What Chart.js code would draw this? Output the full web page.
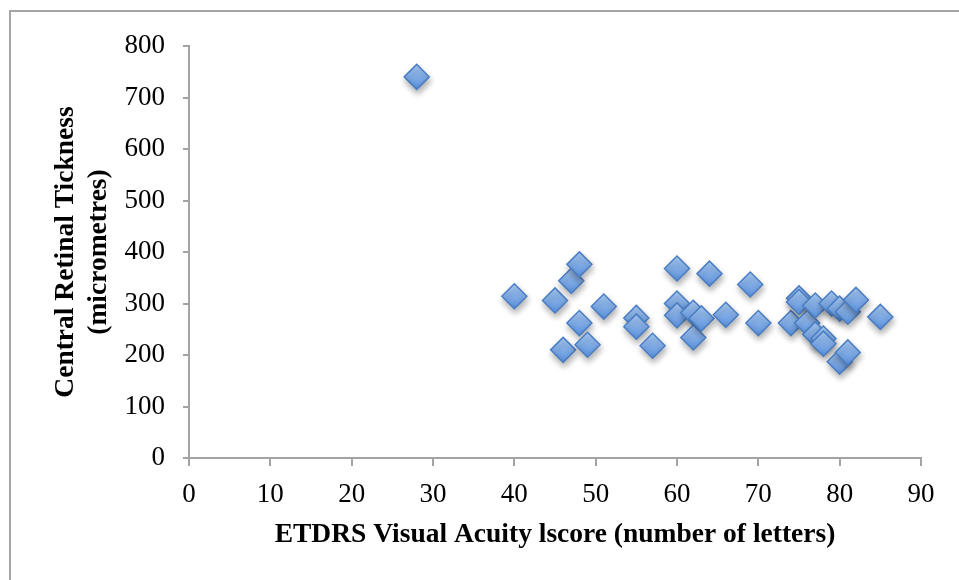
<!DOCTYPE html>
<html>
<head>
<meta charset="utf-8">
<script src="https://cdn.jsdelivr.net/npm/chart.js@4/dist/chart.umd.min.js"></script>
<style>
  html, body { margin: 0; padding: 0; background: #fff; }
  #wrap { width: 959px; height: 580px; }
</style>
</head>
<body>
<div id="wrap"><canvas id="scatter" width="959" height="580"></canvas></div>
<script>
const ctx = document.getElementById('scatter')

// ETDRS score (letters) vs central retinal thickness (micrometres)
const acuity = [28, 40, 45, 46, 47, 48, 48, 49, 51, 55, 55, 57, 60, 60, 60, 62, 62, 63, 64, 66, 69, 70,
  74, 75, 75, 76, 77, 77, 78, 78, 79, 80, 80, 81, 81, 82, 85]
const thickness = [740, 314, 306, 210, 344, 376, 262, 220, 294, 272, 255, 218, 368, 300, 277, 282, 234, 271, 358, 278, 337, 262,
  262, 310, 303, 262, 296, 240, 232, 222, 300, 290, 187, 284, 205, 307, 274]

const xTicks = [0, 10, 20, 30, 40, 50, 60, 70, 80, 90]
const yTicks = [0, 100, 200, 300, 400, 500, 600, 700, 800]

const xTitle = 'ETDRS Visual Acuity lscore (number of letters)'
const yTitle = ['Central Retinal Tickness', '(micrometres)']

const serif = "'Liberation Serif', 'DejaVu Serif', serif"
const axisGrey = '#a3a3a3'

// gradient fill per diamond, like the office style markers
const diamondFill = (c) => {
  const chart = c.chart
  if (c.type !== 'data' || !chart.scales.y || !c.parsed) return '#7aa7e4'
  const y = chart.scales.y.getPixelForValue(c.parsed.y)
  if (!isFinite(y)) return '#7aa7e4'
  const g = chart.ctx.createLinearGradient(0, y - 12, 0, y + 12)
  g.addColorStop(0, '#a9cbf5')
  g.addColorStop(1, '#5b91dc')
  return g
}

const frame = {
  id: 'frame',
  beforeDraw: (chart) => {
    const c = chart.ctx
    c.save()
    c.strokeStyle = '#a6a6a6'
    c.lineWidth = 2
    c.strokeRect(10, 11, 1000, 1000)
    c.restore()
  },
}

const shadow = {
  id: 'shadow',
  beforeDatasetsDraw: (chart) => {
    const c = chart.ctx
    c.save()
    c.shadowColor = 'rgba(0,0,0,0.3)'
    c.shadowBlur = 6
    c.shadowOffsetX = 1
    c.shadowOffsetY = 4
  },
  afterDatasetsDraw: (chart) => {
    chart.ctx.restore()
  },
}

new Chart(ctx, {
  type: 'scatter',
  data: {
    datasets: [{
      data: acuity.map((x, i) => ({ x: x, y: thickness[i] })),
      pointStyle: 'rectRot',
      pointRadius: 12.5,
      pointHoverRadius: 12.5,
      backgroundColor: diamondFill,
      borderColor: '#4a7ec4',
      borderWidth: 1.5,
    }],
  },
  plugins: [frame, shadow],
  options: {
    responsive: false,
    animation: false,
    layout: {
      padding: { left: 0, top: 46, right: 38, bottom: 0 },
    },
    plugins: {
      legend: { display: false },
      tooltip: { enabled: false },
    },
    scales: {
      x: {
        type: 'linear',
        min: 0,
        max: 90,
        afterFit: (scale) => { scale.height = 122 },
        afterBuildTicks: (scale) => { scale.ticks = xTicks.map(v => ({ value: v })) },
        border: { display: true, color: axisGrey, width: 2 },
        grid: { drawOnChartArea: false, drawTicks: true, tickLength: 8, color: axisGrey, lineWidth: 2 },
        ticks: {
          color: '#000',
          padding: 13,
          maxRotation: 0,
          font: { family: serif, size: 27 },
        },
        title: {
          display: true,
          text: xTitle,
          color: '#000',
          padding: { top: 0, bottom: 29 },
          font: { family: serif, size: 27.5, weight: 'bold', lineHeight: 1.2 },
        },
      },
      y: {
        type: 'linear',
        min: 0,
        max: 800,
        afterFit: (scale) => { scale.width = 189 },
        afterBuildTicks: (scale) => { scale.ticks = yTicks.map(v => ({ value: v })) },
        border: { display: true, color: axisGrey, width: 2 },
        grid: { drawOnChartArea: false, drawTicks: true, tickLength: 6, color: axisGrey, lineWidth: 2 },
        ticks: {
          color: '#000',
          padding: 18,
          font: { family: serif, size: 27 },
        },
        title: {
          display: true,
          text: yTitle,
          color: '#000',
          padding: { top: 49, bottom: 0 },
          font: { family: serif, size: 27.5, weight: 'bold', lineHeight: 1.2 },
        },
      },
    },
  },
})
</script>
</body>
</html>
